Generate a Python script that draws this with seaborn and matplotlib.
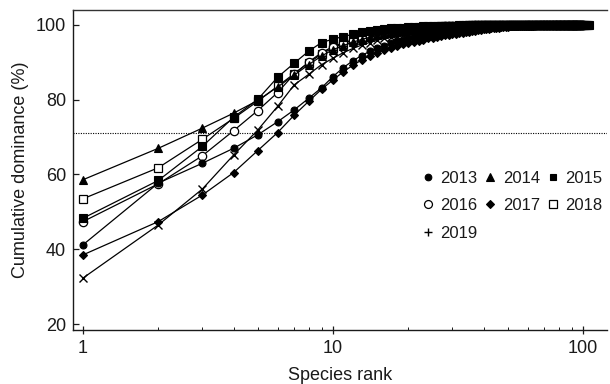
import numpy as np
import pandas as pd
import matplotlib
matplotlib.use("Agg")
import matplotlib.pyplot as plt
from matplotlib.lines import Line2D
from matplotlib.ticker import LogLocator, NullFormatter, FixedLocator, FixedFormatter
import seaborn as sns

sns.set_theme(style="ticks")
plt.rcParams["font.family"] = ["Liberation Sans", "DejaVu Sans"]

# Cumulative dominance (%) by species rank, one list per sampling year
years = ["2013", "2014", "2015", "2016", "2017", "2018", "2019"]

dom_2013 = [
    41.2, 57.7, 63.0, 67.0, 70.6, 74.1, 77.3, 80.4, 83.2, 86.2,
    88.6, 90.4, 91.8, 92.9, 93.8, 94.5, 95.1, 95.6, 96.0, 96.4,
    96.7, 97.0, 97.3, 97.5, 97.7, 97.9, 98.1, 98.3, 98.4, 98.5,
    98.7, 98.8, 98.9, 99.0, 99.1, 99.2, 99.2, 99.3, 99.4, 99.4,
    99.5, 99.5, 99.6, 99.6, 99.6, 99.7, 99.7, 99.7, 99.7, 99.8,
    99.8, 99.8, 99.8, 99.8, 99.8, 99.8, 99.8, 99.8, 99.8, 99.8,
    99.8, 99.8, 99.8, 99.8, 99.9, 99.9, 99.9, 99.9, 99.9, 99.9,
    99.9, 99.9, 99.9, 99.9, 99.9, 99.9, 99.9, 99.9, 99.9, 99.9,
    99.9, 99.9, 99.9, 99.9, 99.9, 100.0, 100.0, 100.0, 100.0, 100.0,
    100.0, 100.0, 100.0, 100.0, 100.0, 100.0, 100.0, 100.0, 100.0, 100.0,
    100.0, 100.0, 100.0, 100.0,
]

dom_2014 = [
    58.6, 67.0, 72.4, 76.4, 79.8, 83.4, 86.6, 89.4, 91.7, 93.4,
    94.5, 95.4, 96.1, 96.7, 97.2, 97.6, 97.9, 98.2, 98.4, 98.6,
    98.8, 98.9, 99.0, 99.1, 99.2, 99.3, 99.4, 99.4, 99.5, 99.5,
    99.6, 99.6, 99.7, 99.7, 99.7, 99.8, 99.8, 99.8, 99.8, 99.8,
    99.9, 99.9, 99.9, 99.9, 99.9, 99.9, 99.9, 99.9, 99.9, 99.9,
    99.9, 99.9, 99.9, 99.9, 99.9, 99.9, 99.9, 99.9, 99.9, 99.9,
    100.0, 100.0, 100.0, 100.0, 100.0, 100.0, 100.0, 100.0, 100.0, 100.0,
    100.0, 100.0, 100.0, 100.0, 100.0, 100.0, 100.0, 100.0, 100.0, 100.0,
    100.0, 100.0, 100.0, 100.0, 100.0, 100.0, 100.0, 100.0, 100.0, 100.0,
    100.0, 100.0, 100.0, 100.0, 100.0,
]

dom_2015 = [
    48.3, 58.4, 67.5, 75.3, 80.1, 86.0, 89.8, 93.0, 95.3, 96.2,
    96.9, 97.5, 98.0, 98.4, 98.7, 98.9, 99.1, 99.2, 99.3, 99.4,
    99.5, 99.5, 99.6, 99.6, 99.7, 99.7, 99.7, 99.8, 99.8, 99.8,
    99.8, 99.9, 99.9, 99.9, 99.9, 99.9, 99.9, 99.9, 99.9, 99.9,
    99.9, 99.9, 99.9, 99.9, 99.9, 99.9, 99.9, 99.9, 99.9, 99.9,
    99.9, 99.9, 99.9, 99.9, 99.9, 99.9, 99.9, 99.9, 99.9, 99.9,
    100.0, 100.0, 100.0, 100.0, 100.0, 100.0, 100.0, 100.0, 100.0, 100.0,
    100.0, 100.0, 100.0, 100.0, 100.0, 100.0, 100.0, 100.0, 100.0, 100.0,
    100.0, 100.0, 100.0, 100.0, 100.0, 100.0, 100.0, 100.0, 100.0, 100.0,
    100.0, 100.0, 100.0, 100.0, 100.0, 100.0, 100.0, 100.0, 100.0, 100.0,
    100.0, 100.0, 100.0, 100.0, 100.0, 100.0,
]

dom_2016 = [
    47.4, 57.5, 65.0, 71.7, 77.1, 81.9, 86.9, 90.1, 92.6, 94.2,
    95.2, 96.0, 96.6, 97.1, 97.5, 97.9, 98.2, 98.4, 98.6, 98.8,
    99.0, 99.1, 99.2, 99.3, 99.4, 99.5, 99.5, 99.6, 99.6, 99.7,
    99.7, 99.7, 99.8, 99.8, 99.8, 99.8, 99.9, 99.9, 99.9, 99.9,
    99.9, 99.9, 99.9, 99.9, 99.9, 99.9, 99.9, 99.9, 99.9, 99.9,
    99.9, 99.9, 99.9, 99.9, 99.9, 99.9, 99.9, 99.9, 99.9, 99.9,
    100.0, 100.0, 100.0, 100.0, 100.0, 100.0, 100.0, 100.0, 100.0, 100.0,
    100.0, 100.0, 100.0, 100.0, 100.0, 100.0, 100.0, 100.0, 100.0, 100.0,
    100.0, 100.0, 100.0, 100.0, 100.0, 100.0, 100.0, 100.0, 100.0, 100.0,
    100.0, 100.0, 100.0, 100.0, 100.0, 100.0, 100.0, 100.0, 100.0, 100.0,
]

dom_2017 = [
    38.5, 47.4, 54.5, 60.5, 66.4, 71.2, 75.9, 79.6, 82.8, 85.3,
    87.5, 89.2, 90.6, 91.7, 92.6, 93.3, 93.9, 94.4, 94.8, 95.2,
    95.5, 95.8, 96.1, 96.4, 96.6, 96.8, 97.0, 97.2, 97.4, 97.5,
    97.7, 97.8, 97.9, 98.0, 98.1, 98.3, 98.4, 98.6, 98.7, 98.8,
    98.9, 99.0, 99.1, 99.2, 99.2, 99.3, 99.4, 99.4, 99.5, 99.5,
    99.6, 99.6, 99.6, 99.7, 99.7, 99.7, 99.7, 99.8, 99.8, 99.8,
    99.8, 99.8, 99.8, 99.9, 99.9, 99.9, 99.9, 99.9, 99.9, 99.9,
    99.9, 99.9, 99.9, 99.9, 99.9, 99.9, 99.9, 99.9, 99.9, 99.9,
    99.9, 99.9, 99.9, 99.9, 99.9, 99.9, 99.9, 99.9, 100.0, 100.0,
    100.0, 100.0, 100.0, 100.0, 100.0, 100.0, 100.0, 100.0, 100.0, 100.0,
    100.0, 100.0, 100.0,
]

dom_2018 = [
    53.5, 61.8, 69.4, 75.0, 79.6, 83.6, 87.0, 89.9, 92.2, 93.9,
    95.0, 95.9, 96.6, 97.2, 97.6, 98.0, 98.3, 98.5, 98.7, 98.9,
    99.1, 99.2, 99.3, 99.4, 99.5, 99.5, 99.6, 99.6, 99.7, 99.7,
    99.8, 99.8, 99.8, 99.8, 99.9, 99.9, 99.9, 99.9, 99.9, 99.9,
    99.9, 99.9, 99.9, 99.9, 99.9, 99.9, 99.9, 99.9, 99.9, 99.9,
    99.9, 99.9, 99.9, 99.9, 99.9, 99.9, 99.9, 99.9, 99.9, 99.9,
    100.0, 100.0, 100.0, 100.0, 100.0, 100.0, 100.0, 100.0, 100.0, 100.0,
    100.0, 100.0, 100.0, 100.0, 100.0, 100.0, 100.0, 100.0, 100.0, 100.0,
    100.0, 100.0, 100.0, 100.0, 100.0, 100.0, 100.0, 100.0, 100.0, 100.0,
    100.0, 100.0, 100.0, 100.0, 100.0, 100.0, 100.0, 100.0,
]

dom_2019 = [
    32.3, 46.5, 56.1, 65.2, 71.9, 78.2, 84.0, 86.8, 89.4, 91.1,
    92.6, 93.7, 94.6, 95.3, 95.9, 96.4, 96.8, 97.1, 97.4, 97.7,
    97.9, 98.1, 98.3, 98.5, 98.6, 98.8, 98.9, 99.0, 99.1, 99.2,
    99.3, 99.4, 99.4, 99.5, 99.5, 99.6, 99.6, 99.7, 99.7, 99.7,
    99.8, 99.8, 99.8, 99.8, 99.8, 99.8, 99.8, 99.8, 99.8, 99.8,
    99.8, 99.8, 99.8, 99.9, 99.9, 99.9, 99.9, 99.9, 99.9, 99.9,
    99.9, 99.9, 99.9, 99.9, 99.9, 99.9, 99.9, 99.9, 99.9, 99.9,
    99.9, 99.9, 99.9, 99.9, 99.9, 100.0, 100.0, 100.0, 100.0, 100.0,
    100.0, 100.0, 100.0, 100.0, 100.0, 100.0, 100.0, 100.0, 100.0, 100.0,
    100.0, 100.0,
]

series = {
    "2013": dom_2013, "2014": dom_2014, "2015": dom_2015, "2016": dom_2016,
    "2017": dom_2017, "2018": dom_2018, "2019": dom_2019,
}

threshold = 71.0
x_ticks = [1, 10, 100]
x_tick_labels = ["1", "10", "100"]
y_ticks = [20, 40, 60, 80, 100]

frames = []
for yr in years:
    vals = series[yr]
    frames.append(pd.DataFrame({"rank": np.arange(1, len(vals) + 1),
                                "dominance": vals, "year": yr}))
df = pd.concat(frames, ignore_index=True)

# marker, size, face colour, edge width
style = {
    "2013": ("o", 5.0, "black", 0.8),
    "2014": ("^", 6.0, "black", 0.8),
    "2015": ("s", 5.2, "black", 0.8),
    "2016": ("o", 6.0, "white", 0.9),
    "2017": ("D", 4.4, "black", 0.8),
    "2018": ("s", 5.4, "white", 0.9),
    "2019": ("x", 5.5, "black", 1.0),
}

fig = plt.figure(figsize=(6.1, 3.84), dpi=100)
ax = fig.add_axes([0.1197, 0.1406, 0.8754, 0.8334])

# open-marker years first so the filled markers sit on top
draw_order = ["2018", "2016", "2019", "2014", "2013", "2017", "2015"]
for yr in draw_order:
    m, ms, fc, mew = style[yr]
    sns.lineplot(data=df[df["year"] == yr], x="rank", y="dominance", ax=ax,
                 color="black", lw=0.9, marker=m, markersize=ms,
                 markerfacecolor=fc, markeredgecolor="black",
                 markeredgewidth=mew, legend=False, zorder=3)

ax.axhline(threshold, color="black", lw=0.8, ls=(0, (1, 1.2)), zorder=2)

ax.set_xscale("log")
ax.set_xlim(0.912, 124.7)
ax.set_ylim(18.4, 104.0)
ax.xaxis.set_major_locator(FixedLocator(x_ticks))
ax.xaxis.set_major_formatter(FixedFormatter(x_tick_labels))
ax.xaxis.set_minor_locator(LogLocator(base=10, subs=np.arange(2, 10)))
ax.xaxis.set_minor_formatter(NullFormatter())
ax.set_yticks(y_ticks)

ax.tick_params(axis="x", which="major", direction="inout", length=6,
               width=0.9, labelsize=13, pad=4, colors="#1a1a1a")
ax.tick_params(axis="x", which="minor", direction="in", length=2.5,
               width=0.7, colors="#1a1a1a")
ax.tick_params(axis="y", which="major", direction="in", length=4,
               width=0.9, labelsize=13, pad=5, colors="#1a1a1a")

for side in ["left", "bottom"]:
    ax.spines[side].set_linewidth(1.0)
    ax.spines[side].set_color("#1a1a1a")
ax.spines["top"].set_linewidth(1.0)
ax.spines["top"].set_color("#333333")
ax.spines["right"].set_visible(False)

ax.set_xlabel("Species rank", fontsize=13, color="#1a1a1a", labelpad=7.5)
ax.set_ylabel("Cumulative dominance (%)", fontsize=13, color="#1a1a1a",
              labelpad=5)

legend_marker = {"2019": "+"}
order = ["2013", "2016", "2019", "2014", "2017", "2015", "2018"]
handles = []
for yr in order:
    m, ms, fc, mew = style[yr]
    handles.append(Line2D([], [], ls="none", marker=legend_marker.get(yr, m),
                          markersize=ms * 0.95, markerfacecolor=fc,
                          markeredgecolor="black", markeredgewidth=mew,
                          color="black"))
leg = ax.legend(handles, order, ncol=3, frameon=False, fontsize=12,
                loc="upper left", bbox_to_anchor=(0.653, 0.497),
                borderaxespad=0, borderpad=0, handlelength=0.7,
                handletextpad=0.39, columnspacing=0.45, labelspacing=0.74)
for t in leg.get_texts():
    t.set_color("#1a1a1a")

fig.savefig("out.png", dpi=100)
